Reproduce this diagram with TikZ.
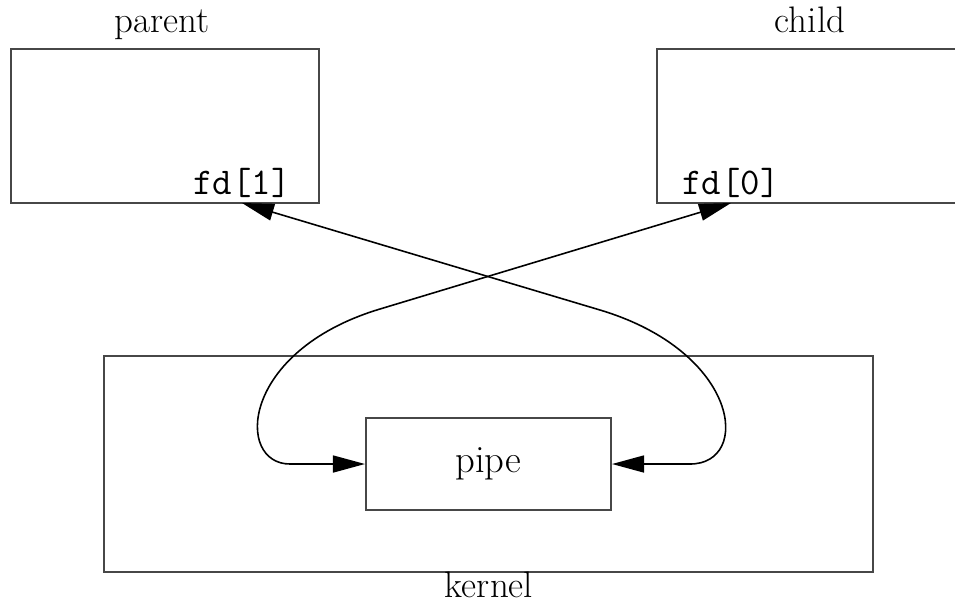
\documentclass[tikz,border=0pt]{standalone}
\usetikzlibrary{arrows.meta}

\begin{document}
\begin{tikzpicture}[x=0.02cm, y=-0.02cm,
  box/.style={draw=black!72, line width=1.2pt, inner sep=0pt},
  lbl/.style={font=\fontsize{21}{24}\selectfont, anchor=base, inner sep=0pt},
  fdlbl/.style={font=\ttfamily\fontsize{21.5}{24}\selectfont, anchor=south, inner sep=3pt},
  flow/.style={line width=0.9pt, {Triangle[length=6.4mm,width=3.4mm]}-{Triangle[length=6.4mm,width=3.4mm]}}]
\useasboundingbox (0, 0) rectangle (955, 610);
\clip (0, 0) rectangle (955, 610);
\node [box, minimum width=6.16cm, minimum height=3.08cm] (parent) at (165, 126) {};
\node [box, minimum width=6.16cm, minimum height=3.08cm] (child) at (811, 126) {};
\node [box, minimum width=15.38cm, minimum height=4.32cm] (kernel) at (488.5, 464) {};
\node [box, minimum width=4.9cm, minimum height=1.84cm, font=\fontsize{22}{24}\selectfont] (pipe) at (488.5, 464) {pipe};
\node [lbl] (parentname) at (162, 32) {parent};
\node [lbl] (childname) at (810, 32) {child};
\node [lbl] (kernelname) at (489, 597) {kernel};
\node [fdlbl] (fd1) at (242, 203) {fd[1]};
\node [fdlbl] (fd0) at (731, 203) {fd[0]};
\draw [flow] (fd1.south) -- (600, 310) .. controls (740, 352) and (752, 464) .. (690, 464) -- (pipe.east);
\draw [flow] (fd0.south) -- (380, 309) .. controls (240, 351) and (235, 464) .. (290, 464) -- (pipe.west);
\end{tikzpicture}
\end{document}
